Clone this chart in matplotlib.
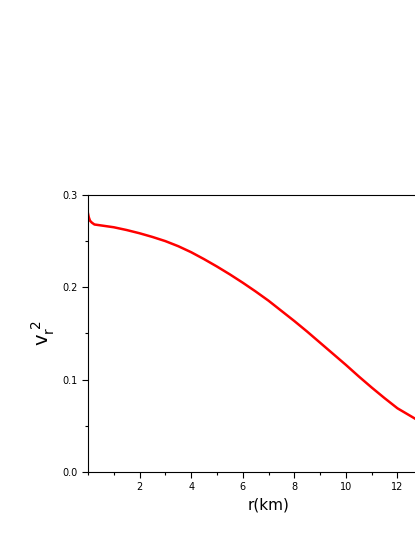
import matplotlib
matplotlib.use('Agg')
import matplotlib.pyplot as plt
from matplotlib.ticker import MultipleLocator

r = [0.0, 0.03, 0.08, 0.15, 0.25, 0.5, 1, 1.5, 2, 2.5, 3, 3.5, 4, 4.5, 5, 5.5, 6, 6.5, 7,
     7.5, 8, 8.5, 9, 9.5, 10, 10.5, 11, 11.5, 12, 12.7]
v2 = [0.280, 0.276, 0.272, 0.270, 0.268, 0.267, 0.2650, 0.2620, 0.2585, 0.2545, 0.2500,
      0.2445, 0.2380, 0.2305, 0.2225, 0.2140, 0.2050, 0.1955, 0.1855, 0.1745, 0.1635,
      0.1520, 0.1400, 0.1280, 0.1160, 0.1035, 0.0915, 0.0800, 0.0690, 0.0575]

fig = plt.figure(figsize=(4.15, 5.37), dpi=100)
ax = fig.add_axes([0.212, 0.121, 0.870, 0.516])
ax.plot(r, v2, color='red', linewidth=1.8)
ax.set_xlim(0, 14)
ax.set_ylim(0, 0.3)
ax.xaxis.set_minor_locator(MultipleLocator(1))
ax.yaxis.set_minor_locator(MultipleLocator(0.05))
ax.set_xticks([2, 4, 6, 8, 10, 12])
ax.set_yticks([0.0, 0.1, 0.2, 0.3])
ax.set_yticklabels(['0.0', '0.1', '0.2', '0.3'])
ax.tick_params(labelsize=7, width=0.8, length=4)
ax.tick_params(which='minor', length=2.5, width=0.8)
ax.set_xlabel('r(km)', fontsize=11)
ax.set_ylabel(r'$\mathregular{v_r^{\ 2}}$', fontsize=14)
fig.savefig('out.png', dpi=100)
